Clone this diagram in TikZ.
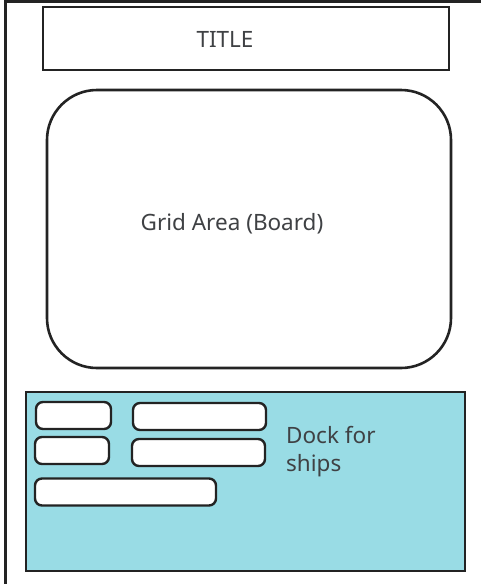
\documentclass[tikz,border=0pt]{standalone}
\usepackage{fontspec}
\setmainfont{Noto Sans}
\usepackage{tikz}
\usetikzlibrary{positioning}

\definecolor{dockblue}{HTML}{99DCE5}
\definecolor{inkgray}{HTML}{3F4144}
\definecolor{edgeblack}{HTML}{232323}

\tikzset{
  panel/.style={draw=edgeblack,line width=2.6pt,inner sep=0pt},
  shipbox/.style={draw=edgeblack,line width=2.4pt,fill=white,rounded corners=7pt,inner sep=0pt,minimum height=27pt},
  label/.style={text=inkgray,inner sep=0pt,font=\fontsize{22.5}{28}\selectfont}
}

\begin{document}
\begin{tikzpicture}[x=1pt,y=-1pt]
			\useasboundingbox (0,0) rectangle (481,584);
			% frame
			\draw[edgeblack,line width=3pt] (5.5,584) |- (481,1.5);
			
			\node[panel,minimum width=406pt,minimum height=63pt] (title) at (246,38.5) {};
			\node[label,anchor=base] (titletext) at (225,47) {TITLE};
			
			\node[panel,rounded corners=50pt,minimum width=404pt,minimum height=278pt] (grid) at (249,229) {};
			\node[label,anchor=base] (gridtext) at (232,230) {Grid Area (Board)};
			
			\node[panel,fill=dockblue,minimum width=439pt,minimum height=179pt] (dock) at (245.5,481.5) {};
			\node[label,align=left,anchor=north west] (docktext) at (286,426.5) {Dock for\\ships};
			
			% ships
			\foreach \n/\cx/\cy/\w in {1/73.5/415.5/75, 2/199.5/416.5/133, 3/72/450.5/74, 4/198.5/452.5/133, 5/125.5/492/181} {
				\node[shipbox,minimum width=\w pt] (ship\n) at (\cx,\cy) {};
			}
		\end{tikzpicture}
\end{document}
